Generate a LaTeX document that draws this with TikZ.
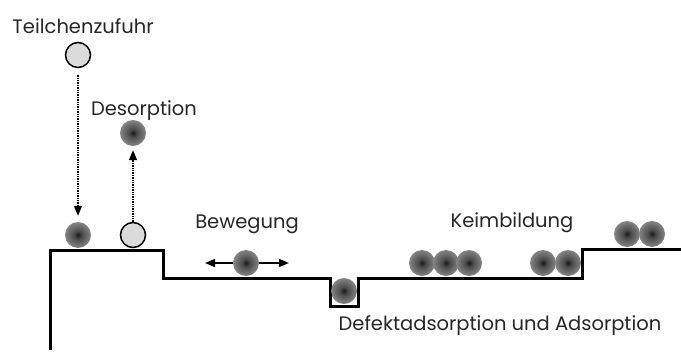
\documentclass[tikz,border=0pt]{standalone}
\usepackage{fontspec}
\setmainfont{Poppins}
\usetikzlibrary{arrows.meta, positioning}

% soft particle: dark core fading to a light grey rim
\pgfdeclareradialshading{atomshade}{\pgfpoint{0bp}{0bp}}{color(0bp)=(black!90); color(8bp)=(black!70); color(28bp)=(black!44); color(50bp)=(black!22); color(100bp)=(black!22)}

\tikzstyle{txt} = [font=\fontsize{19.5}{23}\selectfont, text=black!85, anchor=base]
\tikzstyle{atom} = [circle, minimum size=26pt, inner sep=0pt, shading=atomshade]
\tikzstyle{free} = [circle, minimum size=25pt, inner sep=0pt, draw=black, line width=1.5pt, fill=black!14]
\tikzstyle{jump} = [densely dotted, line width=1.4pt, -{Triangle[length=10pt,width=8pt]}]
\tikzstyle{slide} = [line width=1.4pt, -{Triangle[length=10pt,width=8pt]}]
\tikzstyle{surface} = [line width=3pt, line join=miter]

\begin{document}
\begin{tikzpicture}[x=1pt, y=-1pt]
    \useasboundingbox (0,0) rectangle (681,356);

    % substrate with step, pit and terrace
    \draw[surface] (50,350) -- (50,250) -- (163,250) -- (163,278) -- (330,278) -- (330,306)
        -- (358,306) -- (358,278) -- (582,278) -- (582,249) -- (681,249);

    % labels
    \node[txt] (feedtext) at (83,33) {Teilchenzufuhr};
    \node[txt] (destext) at (144,115) {Desorption};
    \node[txt] (movetext) at (247,228) {Bewegung};
    \node[txt] (seedtext) at (512,227) {Keimbildung};
    \node[txt] (defecttext) at (500,330) {Defektadsorption und Adsorption};

    % supply and desorption
    \node[free] (feed) at (78,55) {};
    \node[atom] (ads) at (78,235) {};
    \draw[jump, shorten <=7pt, shorten >=6pt] (feed) -- (ads);

    \node[free] (leave) at (133,235) {};
    \node[atom] (des) at (133,133) {};
    \draw[jump, shorten >=4pt] (leave) -- (des);

    % surface diffusion
    \node[atom] (move) at (246,263) {};
    \coordinate (moveL) at (205,263);
    \coordinate (moveR) at (289,263);
    \draw[slide] (move) -- (moveL);
    \draw[slide] (move) -- (moveR);

    % particle in the pit
    \node[atom] (pit) at (344,291) {};

    % nuclei on the lower terrace and at the step
    \foreach \x [count=\i] in {422,446,469,543,568}
        \node[atom] (seed\i) at (\x,263) {};
    \foreach \x [count=\i] in {627,652}
        \node[atom] (edge\i) at (\x,234) {};

\end{tikzpicture}
\end{document}
